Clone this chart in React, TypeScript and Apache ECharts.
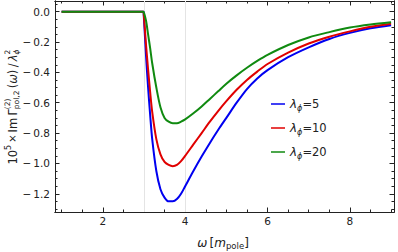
import React, { useEffect, useRef } from "react";
import * as echarts from "echarts";

const X = [1.0, 2.99, 3.0, 3.05, 3.1, 3.15, 3.2, 3.3, 3.4, 3.5, 3.6, 3.7, 3.8, 3.9, 4.0, 4.2, 4.4, 4.6, 4.8, 5.0, 5.25, 5.5, 5.75, 6.0, 6.5, 7.0, 7.5, 8.0, 8.5, 9.0];
const BLUE = [0, 0, 0, -0.29, -0.5, -0.68, -0.84, -1.05, -1.17, -1.225, -1.25, -1.25, -1.235, -1.2, -1.15, -1.05, -0.955, -0.865, -0.78, -0.7, -0.6, -0.51, -0.44, -0.385, -0.3, -0.235, -0.18, -0.14, -0.11, -0.09];
const RED = [0, 0, 0, -0.22, -0.38, -0.53, -0.66, -0.84, -0.94, -0.99, -1.01, -1.018, -1.01, -0.985, -0.95, -0.875, -0.8, -0.725, -0.655, -0.59, -0.515, -0.45, -0.395, -0.345, -0.27, -0.21, -0.165, -0.13, -0.1, -0.08];
const GREEN = [0, 0, 0, -0.06, -0.15, -0.24, -0.34, -0.5, -0.63, -0.7, -0.725, -0.735, -0.735, -0.725, -0.71, -0.67, -0.625, -0.575, -0.525, -0.475, -0.42, -0.37, -0.325, -0.285, -0.22, -0.17, -0.135, -0.105, -0.085, -0.07];
const LAMBDAS = ["5", "10", "20"];
const COLORS = ["#0000f0", "#e00000", "#108a10"];
const X_MAJOR = [2, 4, 6, 8];
const X_MINOR = [1, 1.5, 2, 2.5, 3, 3.5, 4, 4.5, 5, 5.5, 6, 6.5, 7, 7.5, 8, 8.5, 9];
const Y_MAJOR = [-1.2, -1.0, -0.8, -0.6, -0.4, -0.2, 0.0];
const Y_MINOR = [-1.3, -1.25, -1.2, -1.15, -1.1, -1.05, -1.0, -0.95, -0.9, -0.85, -0.8, -0.75, -0.7, -0.65, -0.6, -0.55, -0.5, -0.45, -0.4, -0.35, -0.3, -0.25, -0.2, -0.15, -0.1, -0.05, 0, 0.05];
const GRID_LINES = [3, 4];

const X_MIN = 0.84, X_MAX = 9.07, Y_MIN = -1.32, Y_MAX = 0.07;
const FONT = '"DejaVu Sans", sans-serif';
const INK = "#222";

type Piece = { t?: string; s?: number; dy?: number; it?: boolean; stack?: Piece[] };

let ctx: CanvasRenderingContext2D | null = null;
function measure(t: string, size: number, it?: boolean) {
  if (!ctx) ctx = document.createElement("canvas").getContext("2d");
  ctx!.font = `${it ? "italic " : ""}${size}px ${FONT}`;
  return ctx!.measureText(t).width;
}

function buildText(pieces: Piece[], base: number) {
  const items: any[] = [];
  let x = 0;
  const mk = (p: Piece, px: number) => ({
    type: "text",
    x: px,
    y: p.dy || 0,
    style: {
      text: p.t,
      fontSize: p.s || base,
      fontFamily: FONT,
      fontStyle: p.it ? "italic" : "normal",
      fill: INK,
      align: "left",
      verticalAlign: "middle",
    },
  });
  for (const p of pieces) {
    if (p.stack) {
      let w = 0;
      for (const q of p.stack) {
        items.push(mk(q, x));
        w = Math.max(w, measure(q.t!, q.s || base, q.it));
      }
      x += w;
    } else {
      items.push(mk(p, x));
      x += measure(p.t!, p.s || base, p.it);
    }
  }
  for (const it of items) it.x -= x / 2;
  return items;
}

const Y_TITLE: Piece[] = [
  { t: "10" },
  { t: "5", s: 8, dy: -4.5 },
  { t: "\u2009×\u2009", s: 10 },
  { t: "Im\u2009" },
  { t: "Γ" },
  { stack: [{ t: "(2)", s: 7.5, dy: -5 }, { t: "pol,2", s: 7.5, dy: 4 }] },
  { t: "\u2009(" },
  { t: "ω", it: true },
  { t: ")" },
  { t: "\u2009/\u2009" },
  { t: "λ", it: true },
  { stack: [{ t: "2", s: 7.5, dy: -5 }, { t: "ϕ", s: 7.5, dy: 4, it: true }] },
];
const X_TITLE: Piece[] = [
  { t: "ω", it: true },
  { t: "\u2009[" },
  { t: "m", it: true },
  { t: "pole", s: 8.5, dy: 3 },
  { t: "]" },
];

const fmtY = (v: number) => (v < -1e-9 ? "−\u2009" : "") + Math.abs(v).toFixed(1);

export default function App() {
  const ref = useRef<HTMLDivElement>(null);
  useEffect(() => {
    const chart = echarts.init(ref.current!, null, { renderer: "svg" });
    const lineAx = { show: true, onZero: false, lineStyle: { color: INK, width: 1 } };
    const xAx = (pos: string, vals: number[], len: number, labels: boolean) => ({
      type: "value",
      position: pos,
      min: X_MIN,
      max: X_MAX,
      axisLine: lineAx,
      splitLine: { show: false },
      axisTick: { show: true, inside: true, length: len, customValues: vals, lineStyle: { color: INK } },
      axisLabel: labels
        ? { show: true, customValues: X_MAJOR, fontSize: 10.5, fontFamily: FONT, color: INK, margin: 3 }
        : { show: false },
    });
    const yAx = (pos: string, vals: number[], len: number, labels: boolean) => ({
      type: "value",
      position: pos,
      min: Y_MIN,
      max: Y_MAX,
      axisLine: lineAx,
      splitLine: { show: false },
      axisTick: { show: true, inside: true, length: len, customValues: vals, lineStyle: { color: INK } },
      axisLabel: labels
        ? { show: true, customValues: Y_MAJOR, fontSize: 10.5, fontFamily: FONT, color: INK, margin: 5, formatter: fmtY }
        : { show: false },
    });
    const seriesData = [BLUE, RED, GREEN];
    chart.setOption({
      animation: false,
      grid: { left: 55, right: 4, top: 1, bottom: 40, containLabel: false },
      xAxis: [
        xAx("bottom", X_MAJOR, 4.5, true),
        xAx("bottom", X_MINOR, 2.5, false),
        xAx("top", X_MAJOR, 4.5, false),
        xAx("top", X_MINOR, 2.5, false),
      ],
      yAxis: [
        yAx("left", Y_MAJOR, 4.5, true),
        yAx("left", Y_MINOR, 2.5, false),
        yAx("right", Y_MAJOR, 4.5, false),
        yAx("right", Y_MINOR, 2.5, false),
      ],
      legend: {
        orient: "vertical",
        left: 266,
        top: 93,
        icon: "rect",
        itemWidth: 14,
        itemHeight: 1.5,
        itemGap: 10,
        textStyle: {
          color: INK,
          fontFamily: FONT,
          fontSize: 11.5,
          rich: {
            l: { fontSize: 12, fontStyle: "italic", fontFamily: FONT, color: INK, lineHeight: 16 },
            s: { fontSize: 8, fontStyle: "italic", fontFamily: FONT, color: INK, lineHeight: 8, verticalAlign: "bottom" },
            n: { fontSize: 11.5, fontFamily: FONT, color: INK, lineHeight: 16 },
          },
        },
        formatter: (name: string) => {
          const v = name.split("=")[1];
          return `{l|λ}{s|ϕ}{n|=${v}}`;
        },
        data: LAMBDAS.map((l) => "λϕ=" + l),
      },
      graphic: [
        { type: "group", x: 12.5, y: 107, rotation: Math.PI / 2, children: buildText(Y_TITLE, 11.5) },
        { type: "group", x: 223, y: 243, children: buildText(X_TITLE, 12) },
      ],
      series: seriesData.map((d, i) => ({
        type: "line",
        name: "λϕ=" + LAMBDAS[i],
        xAxisIndex: 0,
        yAxisIndex: 0,
        data: X.map((x, j) => [x, d[j]]),
        symbol: "none",
        smooth: 0.3,
        lineStyle: { color: COLORS[i], width: 2 },
        itemStyle: { color: COLORS[i] },
        z: 3,
        ...(i === 0
          ? {
              markLine: {
                silent: true,
                symbol: "none",
                z: 1,
                label: { show: false },
                lineStyle: { color: "#e4e4e4", width: 1, type: "solid" },
                data: GRID_LINES.map((g) => ({ xAxis: g })),
              },
            }
          : {}),
      })),
    });
    return () => chart.dispose();
  }, []);
  return <div ref={ref} style={{ width: 398, height: 252, position: "absolute", left: 0, top: 0 }} />;
}
